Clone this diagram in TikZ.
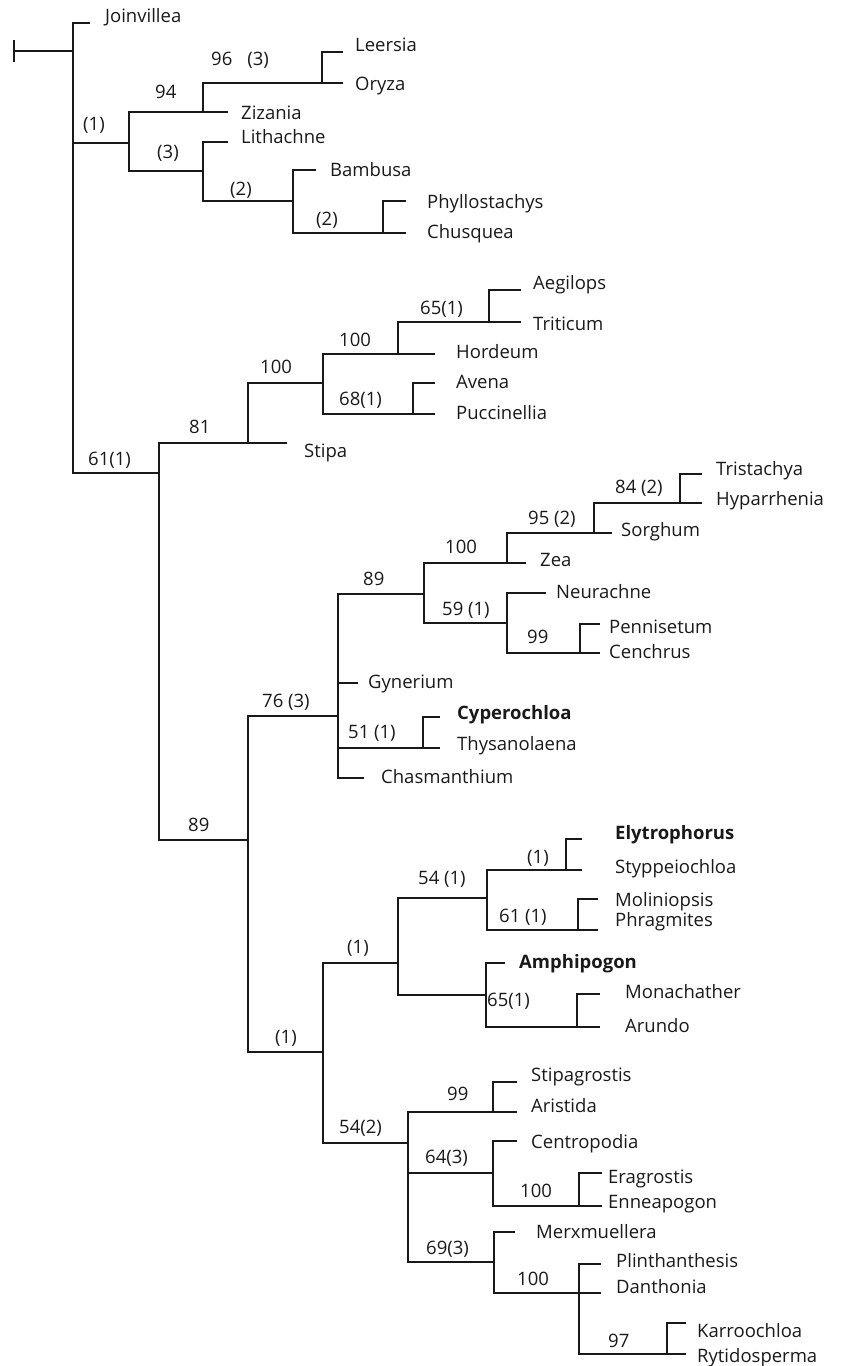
\documentclass[tikz,border=0pt]{standalone}
\usepackage{fontspec}
\setmainfont{Open Sans}
\begin{document}
\begin{tikzpicture}[x=1pt,y=-1pt,
  br/.style={line width=1.2pt,draw=black!90},
  thk/.style={line width=2.4pt,draw=black!90},
  lab/.style={anchor=base west,inner sep=0pt,font=\fontsize{18.5}{20}\selectfont,text=black!90},
  blab/.style={lab,font=\fontsize{18.5}{20}\selectfont\bfseries},
  sup/.style={lab}]
\useasboundingbox (0,0) rectangle (847,1366);
% ---------- coordinates: internal nodes ----------
\coordinate (r0) at (14,51);
\coordinate (R) at (73,51);
\coordinate (A) at (129,143);
\coordinate (C) at (203,112);
\coordinate (E) at (322,83);
\coordinate (D) at (203,171);
\coordinate (F) at (293,201);
\coordinate (G) at (383,233);
\coordinate (B) at (159,473);
\coordinate (H) at (248,443);
\coordinate (K) at (323,383);
\coordinate (L) at (398,354);
\coordinate (N) at (489,322);
\coordinate (M) at (413,414);
\coordinate (I) at (248,840);
\coordinate (O) at (338,716);
\coordinate (Q) at (424,594);
\coordinate (T) at (507,563);
\coordinate (V) at (594,533);
\coordinate (W) at (680,503);
\coordinate (U) at (507,623);
\coordinate (X) at (580,653);
\coordinate (S) at (423,748);
\coordinate (P) at (323,1052);
\coordinate (Y) at (398,963);
\coordinate (AA) at (487,898);
\coordinate (AC) at (566,870);
\coordinate (AD) at (578,930);
\coordinate (AB) at (486,995);
\coordinate (AE) at (577,1027);
\coordinate (Z) at (408,1143);
\coordinate (AF) at (493,1112);
\coordinate (AG) at (493,1173);
\coordinate (AI) at (579,1206);
\coordinate (AH) at (494,1262);
\coordinate (AJ) at (579,1293);
\coordinate (AK) at (667,1354);
% ---------- coordinates: leaf tips ----------
\coordinate (tJoin) at (90,23);
\coordinate (tLeer) at (343,52);
\coordinate (tOryz) at (343,83);
\coordinate (tZiza) at (228,112);
\coordinate (tLith) at (228,142);
\coordinate (tBamb) at (316,170);
\coordinate (tPhyl) at (406,201);
\coordinate (tChus) at (406,233);
\coordinate (tAegi) at (521,290);
\coordinate (tTrit) at (521,322);
\coordinate (tHord) at (435,354);
\coordinate (tAven) at (435,383);
\coordinate (tPucc) at (435,414);
\coordinate (tStip) at (287,443);
\coordinate (tTris) at (702,474);
\coordinate (tHypa) at (702,503);
\coordinate (tSorg) at (612,533);
\coordinate (tZea) at (526,563);
\coordinate (tNeur) at (546,593);
\coordinate (tPenn) at (600,624);
\coordinate (tCenc) at (600,653);
\coordinate (tGyne) at (358,683);
\coordinate (tCype) at (440,717);
\coordinate (tThys) at (440,748);
\coordinate (tChas) at (364,778);
\coordinate (tElyt) at (582,839);
\coordinate (tStyp) at (582,870);
\coordinate (tMoli) at (598,899);
\coordinate (tPhra) at (598,930);
\coordinate (tAmph) at (505,963);
\coordinate (tMona) at (600,994);
\coordinate (tArun) at (600,1027);
\coordinate (tStpg) at (517,1082);
\coordinate (tAris) at (517,1112);
\coordinate (tCent) at (517,1141);
\coordinate (tErag) at (602,1173);
\coordinate (tEnne) at (602,1206);
\coordinate (tMerx) at (515,1232);
\coordinate (tPlin) at (601,1264);
\coordinate (tDant) at (601,1293);
\coordinate (tKarr) at (686,1323);
\coordinate (tRyti) at (686,1354);
% ---------- branches ----------
\draw[br] (r0) -- (R);
\draw[br] ([yshift=-11pt]r0) -- ([yshift=11pt]r0);
\draw[br] (R) |- (tJoin);
\draw[br] (R) |- (A);
\draw[br] (R) |- (B);
\draw[br] (A) |- (C);
\draw[br] (A) |- (D);
\draw[br] (C) |- (E);
\draw[br] (C) |- (tZiza);
\draw[br] (E) |- (tLeer);
\draw[br] (E) |- (tOryz);
\draw[br] (D) |- (tLith);
\draw[br] (D) |- (F);
\draw[br] (F) |- (tBamb);
\draw[br] (F) |- (G);
\draw[br] (G) |- (tPhyl);
\draw[br] (G) |- (tChus);
\draw[br] (B) |- (H);
\draw[br] (B) |- (I);
\draw[br] (H) |- (K);
\draw[br] (H) |- (tStip);
\draw[br] (K) |- (L);
\draw[br] (K) |- (M);
\draw[br] (L) |- (N);
\draw[br] (L) |- (tHord);
\draw[br] (N) |- (tAegi);
\draw[br] (N) |- (tTrit);
\draw[br] (M) |- (tAven);
\draw[br] (M) |- (tPucc);
\draw[br] (I) |- (O);
\draw[br] (I) |- (P);
\draw[br] (O) |- (Q);
\draw[br] (O) |- (tGyne);
\draw[br] (O) |- (S);
\draw[br] (O) |- (tChas);
\draw[br] (Q) |- (T);
\draw[br] (Q) |- (U);
\draw[br] (T) |- (tZea);
\draw[br] (T) |- (V);
\draw[br] (V) |- (W);
\draw[br] (V) |- (tSorg);
\draw[br] (W) |- (tTris);
\draw[br] (W) |- (tHypa);
\draw[br] (U) |- (tNeur);
\draw[br] (U) |- (X);
\draw[br] (X) |- (tPenn);
\draw[br] (X) |- (tCenc);
\draw[br] (S) |- (tCype);
\draw[br] (S) |- (tThys);
\draw[br] (P) |- (Y);
\draw[br] (P) |- (Z);
\draw[br] (Y) |- (AA);
\draw[br] (Y) |- (AB);
\draw[br] (AA) |- (AC);
\draw[br] (AA) |- (AD);
\draw[thk] (AA |- AD) -- (AD) -- (tPhra);
\draw[br] (AC) |- (tElyt);
\draw[br] (AC) |- (tStyp);
\draw[br] (AD) |- (tMoli);
\draw[br] (AB) |- (tAmph);
\draw[br] (AB) |- (AE);
\draw[br] (AE) |- (tMona);
\draw[br] (AE) |- (tArun);
\draw[br] (Z) |- (AF);
\draw[br] (Z) |- (AG);
\draw[br] (Z) |- (AH);
\draw[br] (AF) |- (tStpg);
\draw[br] (AF) |- (tAris);
\draw[br] (AG) |- (tCent);
\draw[br] (AG) |- (AI);
\draw[br] (AI) |- (tErag);
\draw[br] (AI) |- (tEnne);
\draw[br] (AH) |- (tMerx);
\draw[br] (AH) |- (AJ);
\draw[br] (AJ) |- (tPlin);
\draw[br] (AJ) |- (tDant);
\draw[br] (AJ) |- (AK);
\draw[br] (AK) |- (tKarr);
\draw[br] (AK) |- (tRyti);
% ---------- taxon labels ----------
\node[lab] (nJoin) at (105,22) {Joinvillea};
\node[lab] (nLeer) at (355,51) {Leersia};
\node[lab] (nOryz) at (355,90) {Oryza};
\node[lab] (nZiza) at (241,119) {Zizania};
\node[lab] (nLith) at (241,143) {Lithachne};
\node[lab] (nBamb) at (330,176) {Bambusa};
\node[lab] (nPhyl) at (427,208) {Phyllostachys};
\node[lab] (nChus) at (427,238) {Chusquea};
\node[lab] (nAegi) at (533,289) {Aegilops};
\node[lab] (nTrit) at (533,330) {Triticum};
\node[lab] (nHord) at (456,358) {Hordeum};
\node[lab] (nAven) at (456,388) {Avena};
\node[lab] (nPucc) at (456,419) {Puccinellia};
\node[lab] (nStip) at (304,457) {Stipa};
\node[lab] (nTris) at (716,475) {Tristachya};
\node[lab] (nHypa) at (716,505) {Hyparrhenia};
\node[lab] (nSorg) at (621,536) {Sorghum};
\node[lab] (nZea) at (540,566) {Zea};
\node[lab] (nNeur) at (556,598) {Neurachne};
\node[lab] (nPenn) at (609,633) {Pennisetum};
\node[lab] (nCenc) at (609,658) {Cenchrus};
\node[lab] (nGyne) at (368,688) {Gynerium};
\node[blab] (nCype) at (457,719) {Cyperochloa};
\node[lab] (nThys) at (457,750) {Thysanolaena};
\node[lab] (nChas) at (381,783) {Chasmanthium};
\node[blab] (nElyt) at (615,839) {Elytrophorus};
\node[lab] (nStyp) at (615,873) {Styppeiochloa};
\node[lab] (nMoli) at (615,906) {Moliniopsis};
\node[lab] (nPhra) at (615,926) {Phragmites};
\node[blab] (nAmph) at (519,968) {Amphipogon};
\node[lab] (nMona) at (625,998) {Monachather};
\node[lab] (nArun) at (625,1032) {Arundo};
\node[lab] (nStpg) at (531,1081) {Stipagrostis};
\node[lab] (nAris) at (531,1112) {Aristida};
\node[lab] (nCent) at (531,1148) {Centropodia};
\node[lab] (nErag) at (608,1183) {Eragrostis};
\node[lab] (nEnne) at (608,1208) {Enneapogon};
\node[lab] (nMerx) at (536,1238) {Merxmuellera};
\node[lab] (nPlin) at (616,1267) {Plinthanthesis};
\node[lab] (nDant) at (616,1293) {Danthonia};
\node[lab] (nKarr) at (697,1337) {Karroochloa};
\node[lab] (nRyti) at (697,1362) {Rytidosperma};
% ---------- support labels ----------
\node[sup] (sE) at (211,65) {96\hspace{15pt}(3)};
\node[sup] (sC) at (155,98) {94};
\node[sup] (sA) at (83,130) {(1)};
\node[sup] (sD) at (157,158) {(3)};
\node[sup] (sF) at (230,195) {(2)};
\node[sup] (sG) at (316,225) {(2)};
\node[sup] (sN) at (420,314) {65(1)};
\node[sup] (sL) at (339,346) {100};
\node[sup] (sK) at (260,373) {100};
\node[sup] (sM) at (339,405) {68(1)};
\node[sup] (sH) at (189,433) {81};
\node[sup] (sB) at (88,465) {61(1)};
\node[sup] (sW) at (615,493) {84 (2)};
\node[sup] (sV) at (528,524) {95 (2)};
\node[sup] (sT) at (445,553) {100};
\node[sup] (sQ) at (363,585) {89};
\node[sup] (sU) at (442,615) {59 (1)};
\node[sup] (sX) at (527,643) {99};
\node[sup] (sO) at (262,707) {76 (3)};
\node[sup] (sS) at (348,738) {51 (1)};
\node[sup] (sI) at (188,831) {89};
\node[sup] (sAC) at (527,863) {(1)};
\node[sup] (sAA) at (418,884) {54 (1)};
\node[sup] (sAD) at (499,922) {61 (1)};
\node[sup] (sY) at (347,953) {(1)};
\node[sup] (sAE) at (487,1006) {65(1)};
\node[sup] (sP) at (275,1043) {(1)};
\node[sup] (sAF) at (447,1100) {99};
\node[sup] (sZ) at (339,1133) {54(2)};
\node[sup] (sAG) at (425,1163) {64(3)};
\node[sup] (sAI) at (520,1197) {100};
\node[sup] (sAH) at (426,1254) {69(3)};
\node[sup] (sAJ) at (517,1285) {100};
\node[sup] (sAK) at (608,1347) {97};
\end{tikzpicture}
\end{document}
